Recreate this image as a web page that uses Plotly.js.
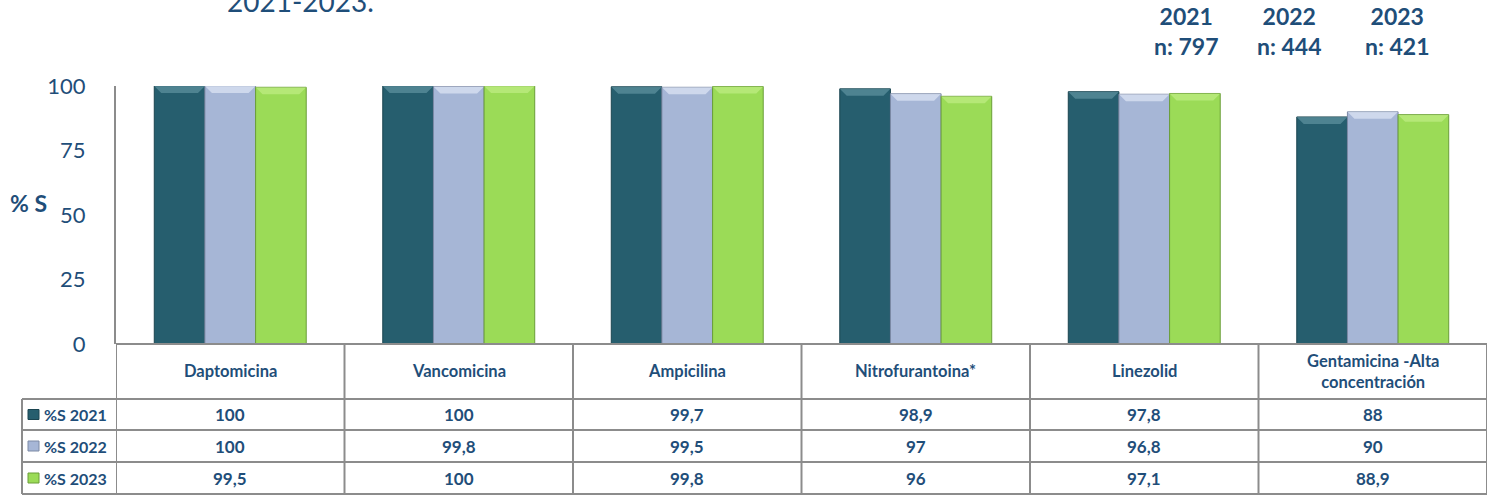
<!DOCTYPE html>
<html><head><meta charset="utf-8">
<script src="https://cdn.plot.ly/plotly-3.0.1.min.js"></script>
<style>html,body{margin:0;padding:0;background:#fff}#chart{width:1497px;height:502px}</style>
</head><body><div id="chart"></div>
<script>
const categories = ['Daptomicina','Vancomicina','Ampicilina','Nitrofurantoina*','Linezolid','Gentamicina -Alta<br>concentración'];
const seriesNames = ['%S 2021','%S 2022','%S 2023'];
const s2021 = [100,100,99.7,98.9,97.8,88];
const s2022 = [100,99.8,99.5,97,96.8,90];
const s2023 = [99.5,100,99.8,96,97.1,88.9];
const headerYears = ['2021','2022','2023'];
const headerN = [797,444,421];
const yTicks = [0,25,50,75,100];
const titleText = '2021-2023.';
const yAxisLabel = '% S';

const series = [s2021, s2022, s2023];
const baseColors = ['#265E6E','#A6B6D6','#9BDB57'];
const hiColors = ['#6FA3AF','#EEF4FF','#CBF392'];
const lineColors = ['#1A4450','#7D8AA5','#6A9E38'];
const textColor = '#1F4E79';
const gridGray = '#8C8C8C';
const FONT = 'Lato, "Open Sans", sans-serif';

const W = 1497, H = 502, L = 116, R = 10, T = 86, B = 158;
const plotW = W - L - R, plotH = H - T - B;
const nCat = categories.length;
const colW = plotW / nCat;
const py = p => (H - B - p) / plotH;          // pixel row -> paper y
const pxp = p => (p - L) / plotW;             // pixel col -> paper x
const groupW = 0.665, barW = groupW / 3;
const xs = categories.map((_, i) => i);

const traces = series.map((vals, k) => ({
  type: 'bar', x: xs, y: vals, name: seriesNames[k],
  width: barW, offset: -groupW / 2 + k * barW,
  marker: { color: baseColors[k], line: { color: lineColors[k], width: 1 } },
  hoverinfo: 'y+name', showlegend: false
}));

const shapes = [];
// bevel highlight on bar tops (data-driven)
const pxPerUnitY = plotH / 100, pxPerUnitX = colW;
const bevH = 7 / pxPerUnitY, bevD = 7 / pxPerUnitX;
series.forEach((vals, k) => {
  vals.forEach((v, i) => {
    const x0 = i - groupW / 2 + k * barW, x1 = x0 + barW;
    shapes.push({ type: 'path', xref: 'x', yref: 'y', layer: 'above',
      path: `M ${x0},${v} L ${x1},${v} L ${x1 - bevD},${v - bevH} L ${x0 + bevD},${v - bevH} Z`,
      fillcolor: hiColors[k], opacity: 0.55, line: { width: 0 } });
  });
});

// table grid
const lineStyle = { color: gridGray, width: 2 };
const rowTops = [344, 399, 430, 462, 494];
const leftEdge = 22;
shapes.push({ type: 'line', xref: 'paper', yref: 'paper', x0: 0, x1: 1, y0: py(344), y1: py(344), line: lineStyle });
rowTops.slice(1).forEach(r => shapes.push({ type: 'line', xref: 'paper', yref: 'paper', x0: pxp(leftEdge), x1: 1, y0: py(r), y1: py(r), line: lineStyle }));
for (let i = 0; i <= nCat; i++) {
  shapes.push({ type: 'line', xref: 'x', yref: 'paper', x0: i - 0.5, x1: i - 0.5, y0: py(344), y1: py(494), line: lineStyle });
}
shapes.push({ type: 'line', xref: 'paper', yref: 'paper', x0: pxp(leftEdge), x1: pxp(leftEdge), y0: py(399), y1: py(494), line: lineStyle });

const annotations = [];
const tf = (size, bold) => ({ family: FONT, size: size, color: textColor, weight: bold ? 'bold' : 'normal' });
// category labels
categories.forEach((c, i) => annotations.push({ xref: 'x', yref: 'paper', x: i, y: py(371), text: '<b>' + c + '</b>', showarrow: false, font: tf(16.5, true), xanchor: 'center', yanchor: 'middle' }));
// data rows
const rowCenters = [414.5, 446, 478];
const fmt = v => String(v).replace('.', ',');
series.forEach((vals, k) => {
  vals.forEach((v, i) => annotations.push({ xref: 'x', yref: 'paper', x: i, y: py(rowCenters[k]), text: '<b>' + fmt(v) + '</b>', showarrow: false, font: tf(17, true), xanchor: 'center', yanchor: 'middle' }));
  annotations.push({ xref: 'paper', yref: 'paper', x: pxp(42), y: py(rowCenters[k]), text: '<b>' + seriesNames[k] + '</b>', showarrow: false, font: tf(16, true), xanchor: 'left', yanchor: 'middle' });
  shapes.push({ type: 'rect', xref: 'paper', yref: 'paper', x0: pxp(28), x1: pxp(39), y0: py(rowCenters[k] - 5), y1: py(rowCenters[k] + 5), fillcolor: baseColors[k], line: { color: lineColors[k], width: 1 } });
});
// header years
const headerX = [1186, 1289, 1397];
headerYears.forEach((yr, k) => annotations.push({ xref: 'paper', yref: 'paper', x: pxp(headerX[k]), y: py(31), text: '<b>' + yr + '<br>n: ' + headerN[k] + '</b>', showarrow: false, font: tf(23, true), xanchor: 'center', yanchor: 'middle' }));
// y axis label
annotations.push({ xref: 'paper', yref: 'paper', x: pxp(8), y: py(203), text: '<b>' + yAxisLabel + '</b>', showarrow: false, font: tf(23, true), xanchor: 'left', yanchor: 'middle' });
// title (cut at top, as in the source)
annotations.push({ xref: 'paper', yref: 'paper', x: pxp(300), y: py(1), text: titleText, showarrow: false, font: { family: FONT, size: 28, color: textColor }, xanchor: 'center', yanchor: 'middle' });

const layout = {
  width: W, height: H,
  margin: { l: L, r: R, t: T, b: B, pad: 0 },
  paper_bgcolor: '#fff', plot_bgcolor: '#fff',
  barmode: 'overlay',
  font: { family: FONT, color: textColor },
  xaxis: { range: [-0.5, nCat - 0.5], showticklabels: false, showgrid: false, zeroline: false, showline: false, fixedrange: true },
  yaxis: { range: [0, 100], tickvals: yTicks, ticktext: yTicks.map(String), showgrid: false, zeroline: false,
    showline: true, linecolor: gridGray, linewidth: 2, ticks: '', ticklabelstandoff: 24,
    tickfont: { family: FONT, size: 22, color: textColor }, fixedrange: true },
  shapes: shapes, annotations: annotations, showlegend: false
};
Plotly.newPlot('chart', traces, layout, { displayModeBar: false, staticPlot: true });
</script></body></html>
